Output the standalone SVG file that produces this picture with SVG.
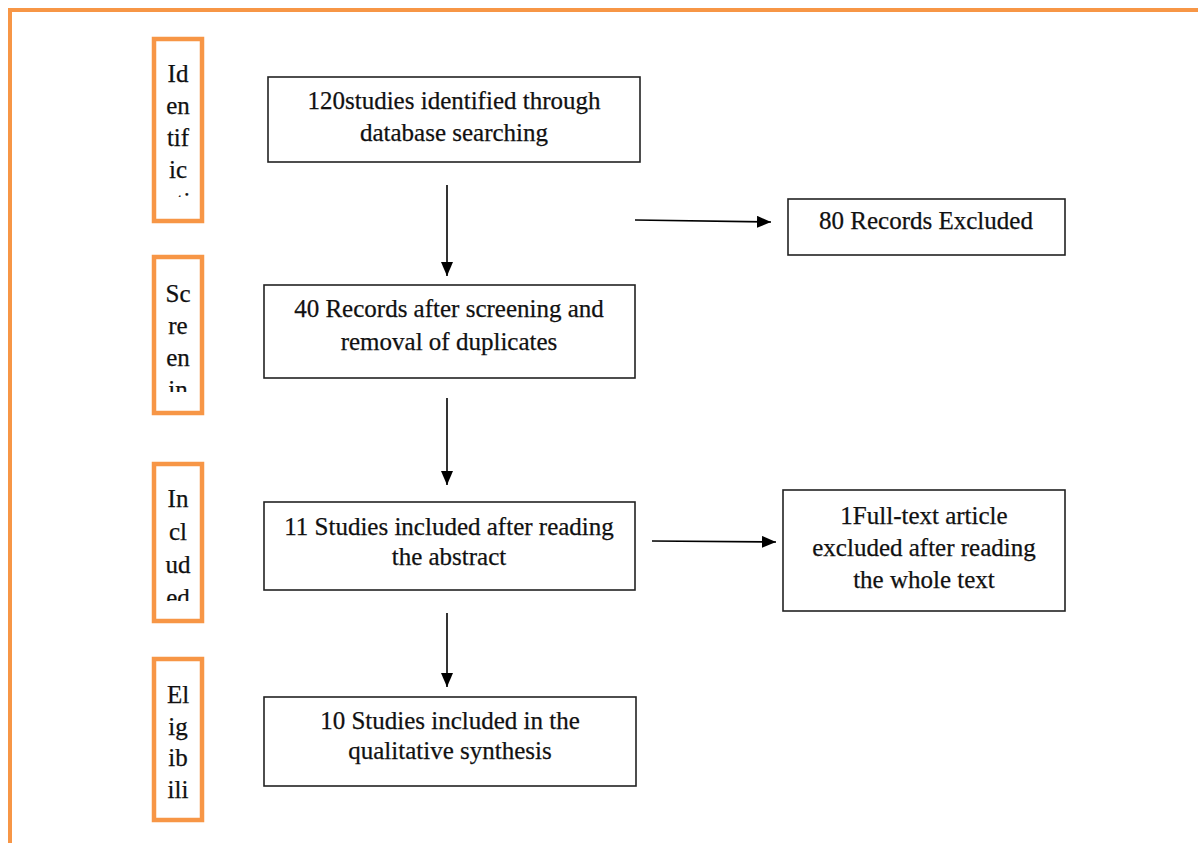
<svg xmlns="http://www.w3.org/2000/svg" width="1198" height="843" viewBox="0 0 1198 843">
<style>
.side{fill:#fff;stroke:#F79646;stroke-width:4.5}
.box{fill:#fff;stroke:#222;stroke-width:1.6}
.t{font-family:"Liberation Serif","Times New Roman",serif;font-size:25px;fill:#111;text-anchor:middle;stroke:#111;stroke-width:0.25}
.c{stroke:#000;stroke-width:1.6;fill:none}
</style>
<defs>
<marker id="ah" viewBox="0 0 14 12" refX="14" refY="6" markerWidth="14" markerHeight="12" markerUnits="userSpaceOnUse" orient="auto">
<path d="M0,0 L14,6 L0,12 Z" fill="#000"/>
</marker>
<clipPath id="cl1"><rect x="150" y="40" width="60" height="157"/></clipPath>
<clipPath id="cl2"><rect x="150" y="260" width="60" height="132"/></clipPath>
<clipPath id="cl3"><rect x="150" y="465" width="60" height="136"/></clipPath>
<clipPath id="cl4"><rect x="150" y="660" width="60" height="158"/></clipPath>
</defs>
<rect width="1198" height="843" fill="#fff"/>
<g id="frame">
<path d="M10,843 L10,10 L1198,10" fill="none" stroke="#F79646" stroke-width="4"/>
</g>
<g id="stage-identification">
<rect class="side" x="154" y="39" width="48" height="182"/>
<g clip-path="url(#cl1)">
<text class="t" x="178" y="82">Id</text>
<text class="t" x="178" y="114">en</text>
<text class="t" x="178" y="146">tif</text>
<text class="t" x="178" y="178">ic</text>
<text class="t" x="178" y="210">ati</text>
</g>
</g>
<g id="stage-screening">
<rect class="side" x="154" y="257" width="48" height="156"/>
<g clip-path="url(#cl2)">
<text class="t" x="178" y="302">Sc</text>
<text class="t" x="178" y="334">re</text>
<text class="t" x="178" y="366">en</text>
<text class="t" x="178" y="398">in</text>
</g>
</g>
<g id="stage-included">
<rect class="side" x="154" y="464" width="48" height="157"/>
<g clip-path="url(#cl3)">
<text class="t" x="178" y="507">In</text>
<text class="t" x="178" y="540">cl</text>
<text class="t" x="178" y="573">ud</text>
<text class="t" x="178" y="606">ed</text>
</g>
</g>
<g id="stage-eligibility">
<rect class="side" x="154" y="659" width="48" height="161"/>
<g clip-path="url(#cl4)">
<text class="t" x="178" y="703">El</text>
<text class="t" x="178" y="735">ig</text>
<text class="t" x="178" y="766">ib</text>
<text class="t" x="178" y="798">ili</text>
</g>
</g>
<g id="n-identified">
<rect class="box" x="268" y="77" width="372" height="85"/>
<text class="t" x="454" y="109">120studies identified through</text>
<text class="t" x="454" y="141">database searching</text>
</g>
<g id="n-excluded80">
<rect class="box" x="788" y="199" width="277" height="56"/>
<text class="t" x="926" y="229">80 Records Excluded</text>
</g>
<g id="n-screened">
<rect class="box" x="264" y="285" width="371" height="93"/>
<text class="t" x="449" y="317">40 Records after screening and</text>
<text class="t" x="449" y="350">removal of duplicates</text>
</g>
<g id="n-abstract">
<rect class="box" x="264" y="502" width="371" height="88"/>
<text class="t" x="449" y="535">11 Studies included after reading</text>
<text class="t" x="449" y="565">the abstract</text>
</g>
<g id="n-fulltext">
<rect class="box" x="783" y="490" width="282" height="121"/>
<text class="t" x="924" y="524">1Full-text article</text>
<text class="t" x="924" y="556">excluded after reading</text>
<text class="t" x="924" y="588">the whole text</text>
</g>
<g id="n-synthesis">
<rect class="box" x="264" y="697" width="372" height="89"/>
<text class="t" x="450" y="729">10 Studies included in the</text>
<text class="t" x="450" y="759">qualitative synthesis</text>
</g>
<g id="connectors">
<line class="c" x1="447" y1="185" x2="447" y2="276" marker-end="url(#ah)"/>
<line class="c" x1="447" y1="398" x2="447" y2="485" marker-end="url(#ah)"/>
<line class="c" x1="447" y1="613" x2="447" y2="687" marker-end="url(#ah)"/>
<line class="c" x1="635" y1="220" x2="771" y2="222" marker-end="url(#ah)"/>
<line class="c" x1="652" y1="541" x2="776" y2="542" marker-end="url(#ah)"/>
</g>
</svg>
